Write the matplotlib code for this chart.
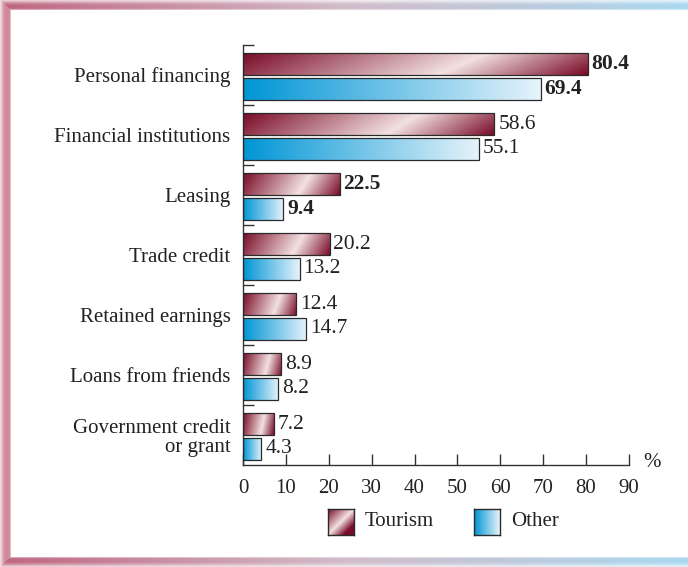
import matplotlib
matplotlib.use("Agg")
import matplotlib.pyplot as plt
import numpy as np
from matplotlib.colors import LinearSegmentedColormap

categories = ["Personal financing", "Financial institutions", "Leasing", "Trade credit",
              "Retained earnings", "Loans from friends", "Government credit\nor grant"]
tourism = [80.4, 58.6, 22.5, 20.2, 12.4, 8.9, 7.2]
other = [69.4, 55.1, 9.4, 13.2, 14.7, 8.2, 4.3]
bold_rows = [0, 2]
series_names = ["Tourism", "Other"]
xticks = list(range(0, 100, 10))

plt.rcParams['font.family'] = ['Liberation Serif', 'DejaVu Serif']
FS = 15

W, H = 688, 567
fig = plt.figure(figsize=(W / 100, H / 100), dpi=100)

# frame drawn as a pixel image behind everything
frame = np.ones((H, W, 3))
xs = np.linspace(0, 1, W)[:, None]
c_left = np.array([185, 85, 115]) / 255
c_mid = np.array([205, 180, 195]) / 255
c_right = np.array([160, 212, 238]) / 255
band = np.where(xs < 0.5, c_left + (c_mid - c_left) * (xs / 0.5),
                c_mid + (c_right - c_mid) * ((xs - 0.5) / 0.5))
top_alpha = [0.3, 0.45, 0.6, 0.75, 0.85, 0.9, 0.9, 0.9, 0.85, 0.55]
for r, a in enumerate(top_alpha):
    frame[r] = 1 - a * (1 - band)
for r, a in enumerate(top_alpha):
    frame[H - 1 - r] = 1 - a * (1 - band)
left_alpha = [0.25, 0.4, 0.55, 0.7, 0.8, 0.85, 0.85, 0.85, 0.85, 0.8, 0.5]
for c, a in enumerate(left_alpha):
    rows = slice(c if c < 10 else 10, H - (c if c < 10 else 10))
    frame[rows, c] = 1 - a * (1 - np.array([200, 115, 140]) / 255)
fig.figimage(frame, 0, 0, origin='upper', zorder=-5)

ax = fig.add_axes([243 / W, 102 / H, 386 / W, 420 / H])
ax.patch.set_alpha(0)

red_cmap = LinearSegmentedColormap.from_list(
    "red", [(0, "#7a0c28"), (0.62, "#f3e1e1"), (1, "#7a0c28")])
blue_cmap = LinearSegmentedColormap.from_list(
    "blue", [(0, "#0095d5"), (1, "#e6f3fb")])

h = 0.365
off = [-0.183, 0.233]
cmaps = [red_cmap, blue_cmap]

def gradient(cmap, diag):
    gx = np.linspace(0, 1, 200)[None, :]
    gy = np.linspace(0, 1, 20)[:, None]
    t = (1 - diag) * gx + diag * gy
    return cmap(t)

for s, vals in enumerate([tourism, other]):
    for i, v in enumerate(vals):
        yc = i + off[s]
        img = gradient(cmaps[s], 0.12 if s == 0 else 0.0)
        ax.imshow(img, extent=[0, v, yc + h / 2, yc - h / 2], aspect='auto',
                  interpolation='bilinear', zorder=2)
        ax.barh(yc, v, height=h, facecolor='none', edgecolor='#2a2a2a',
                linewidth=0.9, zorder=3)
        ax.text(v + 0.9, yc, f"{v:.1f}", va='center', ha='left', fontsize=FS + 0.5,
                fontweight='bold' if i in bold_rows else 'normal', color='#222222')

ax.set_xlim(0, 90)
ax.set_ylim(6.5, -0.5)
ax.set_xticks(xticks)
ax.set_xticklabels([str(t) for t in xticks])
ax.set_yticks(np.arange(-0.5, 6.5, 1.0))
ax.set_yticklabels([])
ax.set_yticks(range(len(categories)), minor=True)
ax.set_yticklabels(categories, minor=True)
for lab in ax.get_yticklabels(minor=True):
    lab.set_linespacing(1.0)
ax.tick_params(axis='y', which='minor', length=0, pad=9, labelsize=FS)
ax.tick_params(axis='y', which='major', direction='in', length=8, width=1, color='#333333')
ax.tick_params(axis='x', direction='in', length=8, width=1, color='#333333',
               pad=10, labelsize=FS)
for lab in ax.get_xticklabels() + ax.get_yticklabels(minor=True):
    lab.set_color('#222222')
for sp in ['top', 'right']:
    ax.spines[sp].set_visible(False)
for sp in ['left', 'bottom']:
    ax.spines[sp].set_color('#333333')
    ax.spines[sp].set_linewidth(1)

ax.text(1.06, 0.006, "%", transform=ax.transAxes, fontsize=FS, ha='center',
        va='center', color='#222222')

# legend with gradient squares
leg = [(328, red_cmap, 0.5), (474, blue_cmap, 0.0)]
for (x0, cm, diag), name in zip(leg, series_names):
    lax = fig.add_axes([x0 / W, (H - 535) / H, 26 / W, 26 / H])
    gx = np.linspace(0, 1, 40)[None, :]
    gy = np.linspace(0, 1, 40)[:, None]
    t = gx if diag == 0 else (gx + gy) / 2 * 1.24
    lax.imshow(cm(np.clip(t, 0, 1)), aspect='auto', interpolation='bilinear')
    lax.set_xticks([])
    lax.set_yticks([])
    for sp in lax.spines.values():
        sp.set_color('#2a2a2a')
        sp.set_linewidth(1)
    fig.text((x0 + 37) / W, (H - 522) / H, name, fontsize=FS, va='center',
             ha='left', color='#222222')

fig.savefig("out.png", dpi=100)
